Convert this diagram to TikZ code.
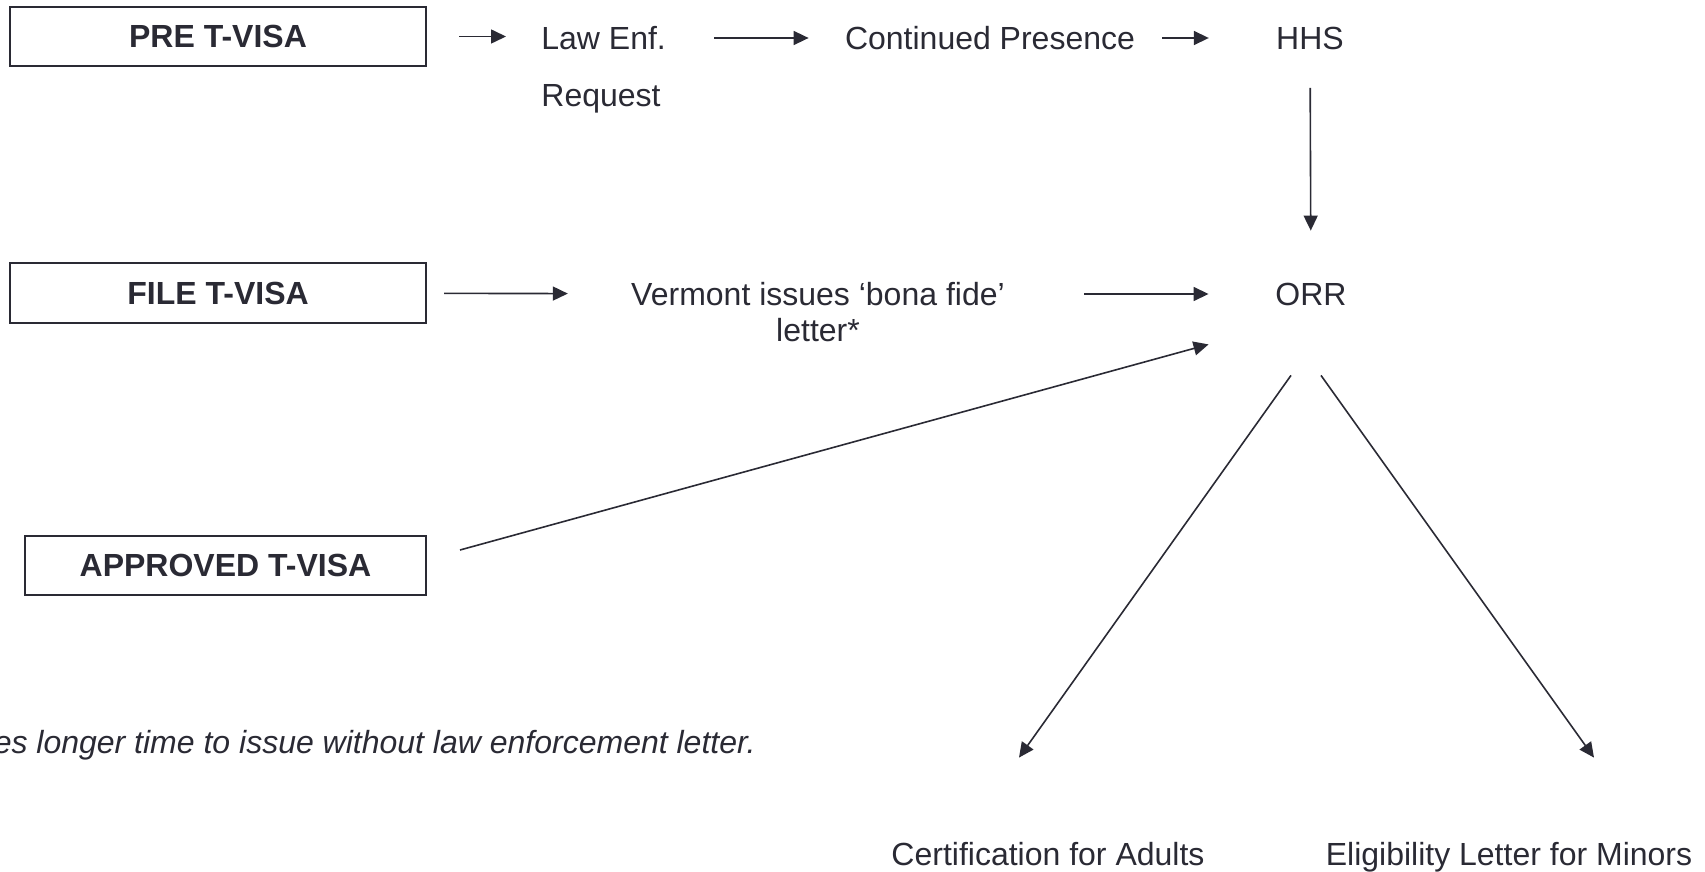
\documentclass[tikz,border=0pt]{standalone}
\usepackage{fontspec}
\setmainfont{Liberation Sans}
\usetikzlibrary{arrows.meta,calc}
\definecolor{ink}{RGB}{42,42,52}

\begin{document}
\begin{tikzpicture}[x=0.5pt, y=-0.5pt,
    visabox/.style={draw=ink, text=ink, line width=1pt, minimum height=29.5pt, inner sep=0pt, font=\fontsize{16}{19}\selectfont\bfseries},
    txt/.style={text=ink, inner sep=0pt, text height=11.5pt, text depth=0pt, font=\fontsize{16}{19}\selectfont},
    flow/.style={draw=ink, line width=0.8pt, -{Triangle[length=7.5pt,width=7pt]}}]
        \useasboundingbox (0,0) rectangle (1705,872);

        \node[visabox, minimum width=208pt] (pre) at (218,36.5) {PRE T-VISA};
        \node[visabox, minimum width=208pt] (file) at (218,293) {FILE T-VISA};
        \node[visabox, minimum width=200.5pt] (approved) at (225.5,565) {APPROVED T-VISA};

        \node[txt, anchor=west] (lawenf) at (541,38) {Law Enf.};
        \node[txt, anchor=west] (request) at (541,95) {Request};
        \node[txt] (cont) at (990,38) {Continued Presence};
        \node[txt] (hhs) at (1310,38) {HHS};
        \node[txt, label={[txt, label distance=6.25pt]below:letter*}] (vermont) at (818,294) {Vermont issues ‘bona fide’};
        \node[txt] (orr) at (1311,294) {ORR};
        \node[txt] (cert) at (1048,854) {Certification for Adults};
        \node[txt] (elig) at (1509,854) {Eligibility Letter for Minors};
        \node[txt, anchor=east, font=\fontsize{16}{19}\selectfont\itshape] (note) at (756,742) {es longer time to issue without law enforcement letter.};

        \draw[flow, shorten <=16pt, shorten >=17.5pt] (pre) -- (pre -| lawenf.west);
        \draw[flow, shorten <=24pt, shorten >=18pt] (lawenf) -- (cont);
        \draw[flow, shorten <=13.5pt, shorten >=33.5pt] (cont) -- (hhs);
        \draw[flow, shorten <=19pt, shorten >=25.75pt] (hhs) -- (orr);

        \draw[flow, shorten <=8.5pt, shorten >=31.5pt] (file) -- (vermont);
        \draw[flow, shorten <=39.5pt, shorten >=33.25pt] (vermont) -- (orr);
        \draw[flow] ($(approved.east)+(33,-15)$) -- ($(orr.south west)+(-66.5,38.5)$);

        \draw[flow] ($(orr.south)+(-20,69.5)$) -- ($(cert.north)+(-29,-84.5)$);
        \draw[flow] ($(orr.south)+(10,69.5)$) -- ($(elig.north)+(85,-84.5)$);
    \end{tikzpicture}
\end{document}
